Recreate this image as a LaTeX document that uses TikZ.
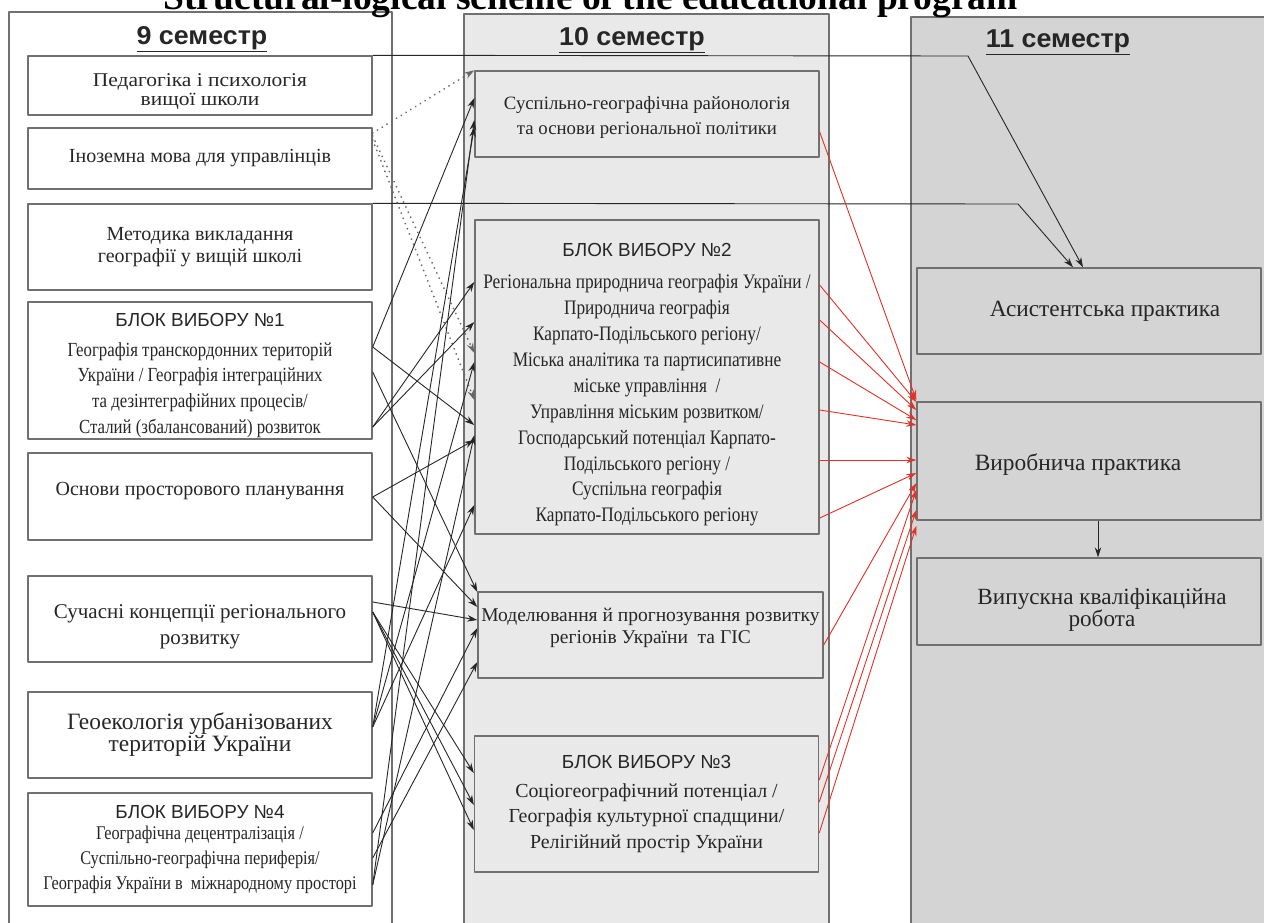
\documentclass[tikz,border=0pt]{standalone}
\usepackage{fontspec}
\setmainfont{Liberation Serif}
\setsansfont{Liberation Sans}
\newfontfamily\narrowrm[FakeStretch=0.84]{Liberation Serif}
\newfontfamily\wideserif[FakeStretch=1.1]{Liberation Serif}
\newfontfamily\widesans[FakeStretch=1.04]{Liberation Sans}
\usetikzlibrary{arrows.meta}
\definecolor{colgray}{RGB}{233,233,233}
\definecolor{darkcol}{RGB}{212,212,212}
\definecolor{framegray}{RGB}{112,112,112}
\definecolor{arrred}{RGB}{228,48,38}
\newcommand\blokhead[1]{{\sffamily\fontsize{18.9}{20}\selectfont #1}}

\begin{document}
\begin{tikzpicture}[x=1pt, y=-1pt, line join=round, >={Stealth[length=10pt,width=6.5pt]},
	col/.style={draw=framegray, line width=1.3pt},
	box/.style={draw=framegray, line width=1.4pt, align=center, inner sep=0pt, text=black!85, minimum width=344pt},
	lbl/.style={align=center, inner sep=0pt, text=black!85},
	conn/.style={->, line width=0.9pt, black!85},
	redconn/.style={->, line width=0.9pt, arrred},
	dotconn/.style={->, line width=1.9pt, dash pattern=on 0.1pt off 5.5pt, line cap=round, black!60},
	head/.style={anchor=base, font=\widesans\bfseries\fontsize{25.8}{28}\selectfont, text=black!85}]
	\useasboundingbox (0,0) rectangle (1264,922);
	% columns
	\draw[col] (9,950) -- (9,12) -- (392,12) -- (392,950);
	\draw[col, fill=colgray] (464,14) rectangle (829,950);
	\draw[col, fill=darkcol] (911,17) rectangle (1290,950);
	\node[font=\bfseries\fontsize{37.5}{40}\selectfont, anchor=base west] (title) at (160,9) {Structural-logical scheme of the educational program};
	\node[head] (h9) at (202,44) {\underline{9 семестр}};
	\node[head] (h10) at (632,45) {\underline{10 семестр}};
	\node[head] (h11) at (1058,47) {\underline{11 семестр}};
	% 9 semester
	\node[box, minimum height=59pt, label={[lbl, font=\wideserif\fontsize{19.5}{19}\selectfont, yshift=-6pt]center:{Педагогіка і психологія\\вищої школи}}] (ped) at (200,85.5) {};
	\node[box, minimum height=61pt, font=\fontsize{20}{22}\selectfont] (inoz) at (200,158.5) {Іноземна мова для управлінців};
	\node[box, minimum height=86pt, font=\fontsize{20}{22}\selectfont] (metod) at (200,247) {Методика викладання\\географії у вищій школі};
	\node[box, minimum height=137pt, label={[lbl, font=\narrowrm\fontsize{20}{25.7}\selectfont, yshift=-5pt]center:{\blokhead{БЛОК ВИБОРУ №1}\\[4pt] Географія транскордонних територій\\України / Географія інтеграційних\\та дезінтеграфійних процесів/\\Сталий (збалансований) розвиток}}] (blok1) at (200,370.5) {};
	\node[box, minimum height=87pt, label={[lbl, font=\fontsize{20}{24}\selectfont, yshift=5pt]center:{Основи просторового планування}}] (osnovy) at (200,496.5) {};
	\node[box, minimum height=86pt, label={[lbl, font=\fontsize{21}{26}\selectfont, yshift=-8pt]center:{Сучасні концепції регіонального\\розвитку}}] (suchas) at (200,619) {};
	\node[box, minimum height=86pt, font=\fontsize{23.4}{22}\selectfont] (geoek) at (200,735) {Геоекологія урбанізованих\\територій України};
	\node[box, minimum height=113pt, font=\narrowrm\fontsize{19.4}{25}\selectfont] (blok4) at (200,849.5) {\blokhead{БЛОК ВИБОРУ №4}\\[-4pt] Географічна децентралізація /\\Суспільно-географічна периферія/\\Географія України в~~міжнародному просторі};
	% 10 semester
	\node[box, fill=colgray, minimum height=86pt, label={[lbl, font=\fontsize{18.8}{25}\selectfont, yshift=-3pt]center:{Суспільно-географічна районологія\\ та основи регіональної політики}}] (regA) at (647,114) {};
	\node[box, fill=colgray, minimum height=314pt, label={[lbl, font=\narrowrm\fontsize{20.6}{25.9}\selectfont, yshift=-8pt]center:{\blokhead{БЛОК ВИБОРУ №2}\\[6pt] Регіональна природнича географія України /\\Природнича географія\\Карпато-Подільського регіону/\\Міська аналітика та партисипативне\\міське управління~~/\\Управління міським розвитком/\\Господарський потенціал Карпато-\\Подільського регіону /\\Суспільна географія\\Карпато-Подільського регіону}}] (blok2) at (647,377) {};
	\node[box, fill=colgray, minimum width=345pt, minimum height=86pt, label={[lbl, font=\fontsize{19.5}{22}\selectfont, yshift=7pt]center:{Моделювання й прогнозування розвитку\\регіонів України~~та ГІС}}] (model) at (650.5,635) {};
	\node[box, fill=colgray, minimum height=136pt, font=\fontsize{19.9}{25.5}\selectfont] (blok3) at (646.5,804) {\blokhead{БЛОК ВИБОРУ №3}\\[3pt] Соціогеографічний потенціал /\\Географія культурної спадщини/\\Релігійний простір України};
	% 11 semester
	\node[box, fill=darkcol, minimum height=86pt, label={[lbl, font=\fontsize{23.3}{23}\selectfont, xshift=16pt]center:{Асистентська практика}}] (asyst) at (1089,311) {};
	\node[box, fill=darkcol, minimum height=118pt, label={[lbl, font=\fontsize{23.4}{23}\selectfont, xshift=-11pt, yshift=-4pt]center:{Виробнича практика}}] (vyrob) at (1089,461) {};
	\node[box, fill=darkcol, minimum height=87pt, label={[lbl, font=\fontsize{23.2}{22}\selectfont, xshift=13pt, yshift=-8pt]center:{Випускна кваліфікаційна\\робота}}] (vypusk) at (1089,601.5) {};
	% connectors
	\draw[conn] (ped.north east) -- (968,56) -- (asyst.north -| 1083,0);
	\draw[conn] (metod.north east) -- (1018,204) -- (asyst.north -| 1073,0);
	\draw[dotconn] (inoz.east |- 0,133) -- (regA.north west);
	\draw[dotconn] (inoz.east |- 0,136) -- (blok2.west |- 0,353);
	\draw[dotconn] (inoz.east |- 0,140) -- (blok2.west |- 0,400);
	\foreach \s/\ys/\t/\yt in {blok1/347/regA/98, blok1/347/blok2/425, blok1/372/model/592,
		blok1/427/blok2/282, blok1/427/blok2/322, osnovy/497/blok2/440, osnovy/497/model/607,
		suchas/602/model/620, suchas/612/blok3/773, suchas/612/blok3/805, suchas/612/blok3/830,
		geoek/727/blok2/362, geoek/727/blok2/505, geoek/727/regA/127,
		blok4/833/model/628, blok4/858/model/662, blok4/885/regA/120, blok4/885/blok2/435}
		\draw[conn] (\s.east |- 0,\ys) -- (\t.west |- 0,\yt);
	\foreach \s/\ys/\yt in {regA/132/400, blok2/285/402, blok2/320/410, blok2/362/420,
		blok2/410/425, blok2/460/460, blok2/518/473, model/645/483,
		blok3/780/490, blok3/802/510, blok3/833/526}
		\draw[redconn] (\s.east |- 0,\ys) -- (vyrob.west |- 0,\yt);
	\draw[conn] (vyrob.south -| 1098,0) -- (vypusk.north -| 1098,0);
\end{tikzpicture}
\end{document}
